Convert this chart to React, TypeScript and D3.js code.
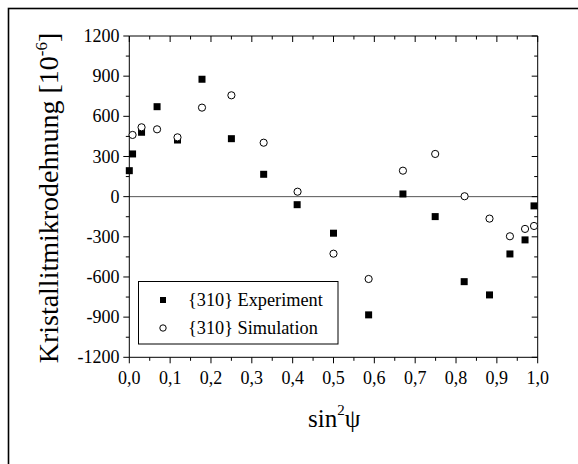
import React from "react";
import * as d3 from "d3";

const expX = [0.0, 0.008, 0.03, 0.068, 0.118, 0.178, 0.25, 0.329, 0.411, 0.5, 0.586, 0.67, 0.749, 0.82, 0.882, 0.932, 0.969, 0.991];
const expY = [194, 319, 481, 672, 423, 877, 433, 167, -60, -273, -883, 20, -149, -635, -734, -428, -323, -69];
const simX = [0.008, 0.03, 0.068, 0.118, 0.178, 0.25, 0.329, 0.412, 0.5, 0.586, 0.67, 0.749, 0.821, 0.882, 0.932, 0.969, 0.991];
const simY = [461, 518, 503, 443, 665, 757, 403, 37, -426, -615, 194, 319, 3, -164, -296, -241, -219];
const xTicks = [0, 0.1, 0.2, 0.3, 0.4, 0.5, 0.6, 0.7, 0.8, 0.9, 1.0];
const yTicks = [-1200, -900, -600, -300, 0, 300, 600, 900, 1200];
const legendLabels = ["{310} Experiment", "{310} Simulation"];

const FONT = "Liberation Serif";

export default function App() {
  const W = 578, H = 464;
  const x = d3.scaleLinear().domain([0, 1]).range([129.3, 537.7]);
  const y = d3.scaleLinear().domain([-1200, 1200]).range([357.3, 36]);
  const xMinor = d3.range(0.05, 1, 0.1);
  const yMinor = d3.range(-1050, 1200, 300);
  const fmtX = (v: number) => d3.format(".1f")(v).replace(".", ",");
  const x0 = x(0), x1 = x(1), y0 = y(-1200), y1 = y(1200);
  const sq = 7;
  const ts = { fontFamily: FONT };

  return (
    <svg width={W} height={H} style={{ position: "absolute", left: 0, top: 0, background: "#fff", fontFamily: FONT }}>
      <rect x={8.5} y={8.5} width={620} height={500} fill="none" stroke="#000" strokeWidth={1.6} />
      <line x1={x0} x2={x1} y1={y(0)} y2={y(0)} stroke="#555" strokeWidth={1} />
      <line x1={x0} x2={x0} y1={y1} y2={y0} stroke="#000" strokeWidth={1} />
      <line x1={x1} x2={x1} y1={y1} y2={y0} stroke="#000" strokeWidth={1} />
      <line x1={x0} x2={x1} y1={y0} y2={y0} stroke="#000" strokeWidth={1} />
      <line x1={x0} x2={x1} y1={y1} y2={y1} stroke="#000" strokeWidth={1} />
      {xTicks.map((t) => (
        <g key={"xt" + t}>
          <line x1={x(t)} x2={x(t)} y1={y0} y2={y0 + 6} stroke="#000" />
          <line x1={x(t)} x2={x(t)} y1={y1} y2={y1 + 6} stroke="#000" />
          <text x={x(t)} y={384} fontSize={18} textAnchor="middle" style={ts}>{fmtX(t)}</text>
        </g>
      ))}
      {xMinor.map((t) => (
        <g key={"xm" + t}>
          <line x1={x(t)} x2={x(t)} y1={y0} y2={y0 + 3.5} stroke="#000" />
          <line x1={x(t)} x2={x(t)} y1={y1} y2={y1 + 3.5} stroke="#000" />
        </g>
      ))}
      {yTicks.map((t) => (
        <g key={"yt" + t}>
          <line x1={x0 - 6} x2={x0} y1={y(t)} y2={y(t)} stroke="#000" />
          <line x1={x1 - 6} x2={x1} y1={y(t)} y2={y(t)} stroke="#000" />
          <text x={119.5} y={y(t)} dy="0.34em" fontSize={18} textAnchor="end" style={ts}>{t}</text>
        </g>
      ))}
      {yMinor.map((t) => (
        <g key={"ym" + t}>
          <line x1={x0 - 3.5} x2={x0} y1={y(t)} y2={y(t)} stroke="#000" />
          <line x1={x1 - 3.5} x2={x1} y1={y(t)} y2={y(t)} stroke="#000" />
        </g>
      ))}
      {expX.map((v, i) => (
        <rect key={"e" + i} x={x(v) - sq / 2} y={y(expY[i]) - sq / 2} width={sq} height={sq} fill="#000" />
      ))}
      {simX.map((v, i) => (
        <circle key={"s" + i} cx={x(v)} cy={y(simY[i])} r={3.6} fill="#fff" stroke="#000" strokeWidth={1} />
      ))}
      <rect x={138.5} y={281.5} width={199.5} height={62.5} fill="#fff" stroke="#000" strokeWidth={1} />
      <rect x={163 - 3} y={300 - 3} width={6} height={6} fill="#000" />
      <text x={188} y={306} fontSize={18.3} style={ts}>{legendLabels[0]}</text>
      <circle cx={163} cy={328} r={3.2} fill="#fff" stroke="#000" />
      <text x={188} y={334} fontSize={18.3} style={ts}>{legendLabels[1]}</text>
      <text transform="translate(57.5,198) rotate(-90)" fontSize={28} textAnchor="middle" style={ts}>
        Kristallitmikrodehnung [10<tspan fontSize={17} dy={-11}>-6</tspan><tspan dy={11}>]</tspan>
      </text>
      <text x={308} y={427} fontSize={25} style={ts}>
        sin<tspan fontSize={15} dy={-12}>2</tspan><tspan dy={12}>ψ</tspan>
      </text>
    </svg>
  );
}
